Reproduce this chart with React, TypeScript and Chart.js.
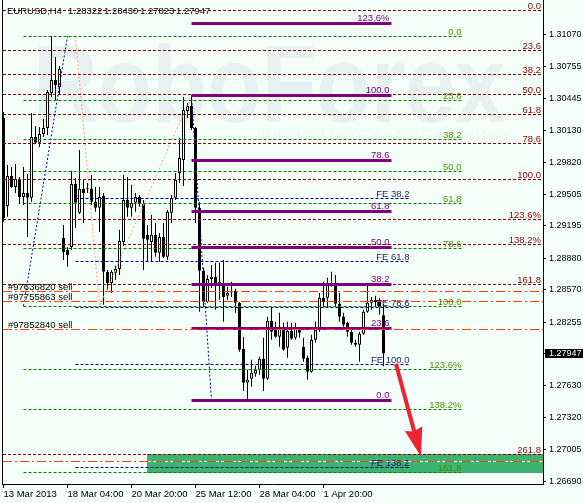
import { useEffect, useRef } from 'react';
import { Chart, registerables } from 'chart.js';

Chart.register(...registerables);

const symbolTitle = 'EURUSD,H4';

// H4 candles, oldest first
const opens = [
  1.30252, 1.29391, 1.29685, 1.29577, 1.29655, 1.29479, 1.29518, 1.2947, 1.30066, 1.30008,
  1.30095, 1.30154, 1.30496, 1.30624, 1.30555, 1.29078, 1.28961, 1.2899, 1.29606, 1.29323,
  1.29558, 1.29558, 1.29558, 1.29431, 1.29372, 1.29489, 1.28746, 1.28638, 1.28736, 1.28775,
  1.29039, 1.2945, 1.29372, 1.29421, 1.29479, 1.29411, 1.29108, 1.29039, 1.29108, 1.28932,
  1.29088, 1.28893, 1.29323, 1.2947, 1.29714, 1.29841, 1.3032, 1.30369, 1.30154, 1.29372,
  1.28756, 1.28452, 1.28677, 1.28697, 1.28628, 1.28628, 1.28511, 1.2855, 1.2856, 1.28443,
  1.27993, 1.27661, 1.277, 1.27748, 1.27787, 1.27895, 1.277, 1.28267, 1.28198, 1.2811,
  1.28208, 1.28003, 1.28169, 1.281, 1.28188, 1.28012, 1.27905, 1.27768, 1.28081, 1.28179,
  1.28492, 1.28492, 1.28638, 1.28609, 1.28433, 1.28306, 1.28247, 1.28159, 1.28051, 1.28032,
  1.28139, 1.28355, 1.28443, 1.28452, 1.28472, 1.28322,
];
const highs = [
  1.30311, 1.29792, 1.29773, 1.29802, 1.29675, 1.29773, 1.29704, 1.30301, 1.30174, 1.30164,
  1.30242, 1.30526, 1.31054, 1.30849, 1.30761, 1.29205, 1.2899, 1.29734, 1.29665, 1.29939,
  1.29646, 1.29616, 1.29694, 1.29577, 1.29577, 1.29518, 1.28765, 1.28765, 1.28805, 1.29157,
  1.29694, 1.29675, 1.29597, 1.29518, 1.29499, 1.2945, 1.29205, 1.29303, 1.29225, 1.29127,
  1.29225, 1.29352, 1.29499, 1.29714, 1.30056, 1.30457, 1.30399, 1.30474, 1.30164, 1.29431,
  1.28785, 1.28716, 1.28814, 1.28834, 1.28834, 1.28863, 1.28599, 1.28648, 1.2858, 1.28452,
  1.2811, 1.27787, 1.27885, 1.27827, 1.27915, 1.281, 1.28306, 1.28403, 1.28257, 1.28345,
  1.28247, 1.28257, 1.28247, 1.28247, 1.28198, 1.281, 1.27924, 1.2813, 1.28257, 1.2854,
  1.28648, 1.28687, 1.28746, 1.28716, 1.2854, 1.28345, 1.28257, 1.28198, 1.28081, 1.28159,
  1.28374, 1.28628, 1.28501, 1.28511, 1.28492, 1.2843,
];
const lows = [
  1.29235, 1.29284, 1.29567, 1.29518, 1.29411, 1.29401, 1.29088, 1.29431, 1.29998, 1.29968,
  1.30066, 1.30086, 1.30457, 1.30428, 1.30477, 1.28863, 1.28795, 1.28961, 1.29176, 1.29313,
  1.29225, 1.29518, 1.29401, 1.29333, 1.29137, 1.28423, 1.2857, 1.2854, 1.28668, 1.28716,
  1.29, 1.29284, 1.29284, 1.29333, 1.29382, 1.28765, 1.28844, 1.28844, 1.28893, 1.28844,
  1.28883, 1.28863, 1.29225, 1.2945, 1.29616, 1.29587, 1.30252, 1.30135, 1.29225, 1.28355,
  1.28403, 1.28443, 1.28589, 1.28374, 1.28472, 1.28257, 1.28472, 1.28501, 1.28345, 1.27963,
  1.27579, 1.27485, 1.27621, 1.27719, 1.27739, 1.27579, 1.2769, 1.28081, 1.281, 1.28012,
  1.27973, 1.27905, 1.28081, 1.28081, 1.281, 1.27866, 1.2769, 1.27758, 1.28051, 1.28159,
  1.28403, 1.28394, 1.28599, 1.28403, 1.28257, 1.28208, 1.2811, 1.28032, 1.28012, 1.27866,
  1.2813, 1.28345, 1.28374, 1.28403, 1.28325, 1.27823,
];
const closes = [
  1.29274, 1.29685, 1.29577, 1.29655, 1.29479, 1.29518, 1.2947, 1.30066, 1.30008, 1.30095,
  1.30154, 1.30506, 1.30624, 1.30575, 1.30731, 1.28941, 1.28912, 1.29606, 1.29421, 1.29558,
  1.29518, 1.29553, 1.29431, 1.29372, 1.29479, 1.28746, 1.28638, 1.28746, 1.28775, 1.29049,
  1.2945, 1.29372, 1.29421, 1.29479, 1.29411, 1.29069, 1.29059, 1.29108, 1.28932, 1.29088,
  1.28893, 1.29333, 1.2947, 1.29646, 1.29861, 1.3033, 1.30369, 1.30154, 1.29372, 1.28756,
  1.28452, 1.28677, 1.28697, 1.28638, 1.28648, 1.28501, 1.2854, 1.28545, 1.28443, 1.27983,
  1.27661, 1.2769, 1.27758, 1.27787, 1.27895, 1.277, 1.28267, 1.28159, 1.2811, 1.28208,
  1.27983, 1.28169, 1.28091, 1.28188, 1.28149, 1.27895, 1.27768, 1.28081, 1.28179, 1.28492,
  1.28452, 1.28638, 1.28609, 1.28433, 1.28306, 1.28228, 1.28159, 1.28051, 1.28032, 1.28139,
  1.28355, 1.28443, 1.28472, 1.28472, 1.28403, 1.27947,
];

const xTickBars = [0, 16, 32, 48, 64, 80];
const xTickLabels = ['13 Mar 2013', '18 Mar 04:00', '20 Mar 20:00', '25 Mar 12:00', '28 Mar 04:00', '1 Apr 20:00'];
const priceTicks = [
  1.3107, 1.30755, 1.30445, 1.3013, 1.2982, 1.29505, 1.29195, 1.2888,
  1.2857, 1.28255, 1.27947, 1.2763, 1.2732, 1.27005, 1.2669,
];

// visible window
const priceMin = 1.2667;
const priceMax = 1.31406;
const barMin = -0.125;
const barMax = 134.875;

// wide retracement (full-width dashed lines)
const wideFiboLevels = [1.31308, 1.30916, 1.30673, 1.30477, 1.30281, 1.30002, 1.29646, 1.29254, 1.29011, 1.28619, 1.26957];
const wideFiboLabels = ['0.0', '23.6', '38.2', '50.0', '61.8', '78.6', '100.0', '123.6%', '138.2%', '161.8', '261.8'];

// retracement of the 13-15 Mar rally
const riseFiboLevels = [1.3105, 1.30427, 1.30042, 1.29731, 1.29419, 1.28976, 1.28411, 1.27788, 1.27403, 1.2678];
const riseFiboLabels = ['0.0', '23.6', '38.2', '50.0', '61.8', '78.6', '100.0', '123.6%', '138.2%', '161.8'];
const riseFiboSpan = [5, 114.5];
const riseFiboAnchorBars = [5, 16];
const riseFiboAnchorPrices = [1.28411, 1.3105];

// expansion A-B-C
const expansionLevels = [1.29466, 1.28843, 1.284, 1.27835, 1.26827];
const expansionLabels = ['FE 38.2', 'FE 61.8', 'FE 78.6', 'FE 100.0', 'FE 138.2'];
const expansionSpan = [18, 101.5];
const expansionPathBars = [18, 24, 47];
const expansionPathPrices = [1.3105, 1.28411, 1.30474];

// retracement of the 25-28 Mar fall
const fallFiboLevels = [1.31179, 1.30474, 1.29834, 1.29332, 1.2898, 1.28627, 1.2819, 1.27485];
const fallFiboLabels = ['123.6%', '100.0', '78.6', '61.8', '50.0', '38.2', '23.6', '0.0'];
const fallFiboSpan = [47, 97];
const fallFiboAnchorBars = [47, 52];
const fallFiboAnchorPrices = [1.30474, 1.27485];

// open sell orders and their target
const orderPrices = [1.28557, 1.28455, 1.28186];
const orderLabels = ['#97636820 sell', '#97755863 sell', '#97852840 sell'];
const targetPrice = 1.26888;

// target zone
const zoneFromBar = 36;
const zoneTop = 1.26966;
const zoneBottom = 1.26779;

// forecast arrow
const arrowBars = [98.1, 104.4];
const arrowPrices = [1.27846, 1.26937];

const brandText = 'RoboForex';
const sloganText = 'ИСПОЛЬЗУЙ РОБОТОВ – ПОЛУЧАЙ ПРИБЫЛЬ';

const FONT = '"Liberation Sans", Arial, sans-serif';
const LABEL_FONT = `9.5px ${FONT}`;
const BG = '#F5FFFA';
const MAROON = '#8B0000';
const GREEN = '#008000';
const GREEN_TEXT = '#4A9200';
const NAVY = '#000080';
const NAVY_TEXT = '#1C1C78';
const PURPLE = '#800080';
const ORANGE = '#FF4500';
const SALMON = '#FFA07A';
const ZONE = '#3CB371';
const ARROW = '#EE2233';

const lastClose = closes[closes.length - 1];

function hLine(ctx: CanvasRenderingContext2D, x1: number, x2: number, yPix: number, color: string, dash: number[], width = 1) {
  const yy = width % 2 === 1 ? Math.floor(yPix) + 0.5 : Math.round(yPix);
  ctx.save();
  ctx.strokeStyle = color;
  ctx.lineWidth = width;
  ctx.setLineDash(dash);
  ctx.beginPath();
  ctx.moveTo(x1, yy);
  ctx.lineTo(x2, yy);
  ctx.stroke();
  ctx.restore();
  return yy;
}

function polyline(ctx: CanvasRenderingContext2D, pts: number[][], color: string, dash: number[]) {
  ctx.save();
  ctx.strokeStyle = color;
  ctx.lineWidth = 1;
  ctx.setLineDash(dash);
  ctx.beginPath();
  pts.forEach((p, i) => (i === 0 ? ctx.moveTo(p[0], p[1]) : ctx.lineTo(p[0], p[1])));
  ctx.stroke();
  ctx.restore();
}

function text(ctx: CanvasRenderingContext2D, s: string, x: number, y: number, color: string, align: CanvasTextAlign) {
  ctx.fillStyle = color;
  ctx.textAlign = align;
  ctx.textBaseline = 'alphabetic';
  ctx.fillText(s, x, y);
}

const terminalObjects = {
  id: 'terminalObjects',
  beforeDraw(chart: any) {
    const { ctx, width, height } = chart;
    ctx.save();
    ctx.fillStyle = BG;
    ctx.fillRect(0, 0, width, height);
    ctx.restore();
  },
  beforeDatasetsDraw(chart: any) {
    const { ctx, chartArea: a } = chart;
    const xs = chart.scales.x;
    const ys = chart.scales.y;
    ctx.save();
    ctx.beginPath();
    ctx.rect(a.left, a.top, a.right - a.left, a.bottom - a.top);
    ctx.clip();

    // brand watermark
    ctx.save();
    ctx.fillStyle = '#E7F1F0';
    ctx.font = `bold 110px ${FONT}`;
    ctx.textBaseline = 'alphabetic';
    const w = ctx.measureText(brandText).width;
    ctx.translate(a.left + 30, a.top + 122);
    ctx.scale(472 / w, 1);
    ctx.fillText(brandText, 0, 0);
    ctx.restore();
    ctx.save();
    ctx.fillStyle = '#EFF8F5';
    ctx.font = `bold 12px ${FONT}`;
    ctx.textAlign = 'left';
    ctx.fillText(sloganText, a.left + 254, a.top + 139, 252);
    ctx.restore();

    // target zone
    const zx = Math.round(xs.getPixelForValue(zoneFromBar) - 0.5);
    const zt = Math.round(ys.getPixelForValue(zoneTop));
    const zb = Math.round(ys.getPixelForValue(zoneBottom));
    ctx.fillStyle = ZONE;
    ctx.fillRect(zx, zt, a.right - zx, zb - zt);
    ctx.restore();
  },
  afterDatasetsDraw(chart: any) {
    const { ctx, chartArea: a } = chart;
    const xs = chart.scales.x;
    const ys = chart.scales.y;
    const X = (b: number) => xs.getPixelForValue(b);
    const Y = (p: number) => ys.getPixelForValue(p);

    ctx.save();
    ctx.beginPath();
    ctx.rect(a.left, a.top, a.right - a.left, a.bottom - a.top);
    ctx.clip();
    ctx.font = LABEL_FONT;

    // anchor trend lines
    polyline(ctx, riseFiboAnchorBars.map((b, i) => [X(b), Y(riseFiboAnchorPrices[i])]), NAVY, [2, 2]);
    polyline(ctx, expansionPathBars.map((b, i) => [X(b), Y(expansionPathPrices[i])]), SALMON, [2, 2]);
    polyline(ctx, fallFiboAnchorBars.map((b, i) => [X(b), Y(fallFiboAnchorPrices[i])]), NAVY, [2, 2]);

    // wide retracement
    wideFiboLevels.forEach((p, i) => {
      const yy = hLine(ctx, a.left, a.right, Y(p), MAROON, [3, 2]);
      text(ctx, wideFiboLabels[i], a.right - 2, yy - 1.5, MAROON, 'right');
    });

    // rally retracement
    const gx1 = X(riseFiboSpan[0]);
    const gx2 = X(riseFiboSpan[1]);
    riseFiboLevels.forEach((p, i) => {
      const yy = hLine(ctx, gx1, gx2, Y(p), GREEN, [3, 2]);
      text(ctx, riseFiboLabels[i], gx2, yy - 1.5, GREEN_TEXT, 'right');
    });

    // expansion
    const ex1 = X(expansionSpan[0]);
    const ex2 = X(expansionSpan[1]);
    expansionLevels.forEach((p, i) => {
      const yy = hLine(ctx, ex1, ex2, Y(p), NAVY, [3, 2]);
      text(ctx, expansionLabels[i], ex2, yy - 1.5, NAVY_TEXT, 'right');
    });

    // fall retracement
    const px1 = X(fallFiboSpan[0]);
    const px2 = X(fallFiboSpan[1]);
    fallFiboLevels.forEach((p, i) => {
      const yy = hLine(ctx, px1, px2, Y(p), PURPLE, [], 3);
      text(ctx, fallFiboLabels[i], px2 - 2, yy - 2.5, PURPLE, 'right');
    });

    // orders and target
    orderPrices.forEach((p, i) => {
      const yy = hLine(ctx, a.left, a.right, Y(p), ORANGE, [9, 3, 2, 3]);
      text(ctx, orderLabels[i], a.left + 5, yy - 1.5, '#000000', 'left');
    });
    const zx = Math.round(X(zoneFromBar) - 0.5);
    hLine(ctx, zx, a.right, Y(targetPrice), '#FFFFFF', []);
    hLine(ctx, a.left, a.right, Y(targetPrice), ORANGE, [9, 3, 2, 3]);

    // forecast arrow
    const ax1 = X(arrowBars[0]);
    const ay1 = Y(arrowPrices[0]);
    const ax2 = X(arrowBars[1]);
    const ay2 = Y(arrowPrices[1]);
    const len = Math.hypot(ax2 - ax1, ay2 - ay1);
    const ux = (ax2 - ax1) / len;
    const uy = (ay2 - ay1) / len;
    const headLen = 29;
    const half = 9;
    const bx = ax2 - ux * headLen;
    const by = ay2 - uy * headLen;
    ctx.strokeStyle = ARROW;
    ctx.fillStyle = ARROW;
    ctx.lineWidth = 4;
    ctx.setLineDash([]);
    ctx.beginPath();
    ctx.moveTo(ax1, ay1);
    ctx.lineTo(bx + ux * 3, by + uy * 3);
    ctx.stroke();
    ctx.beginPath();
    ctx.moveTo(ax2, ay2);
    ctx.lineTo(bx - uy * half, by + ux * half);
    ctx.lineTo(bx + ux * 3, by + uy * 3);
    ctx.lineTo(bx + uy * half, by - ux * half);
    ctx.closePath();
    ctx.fill();
    ctx.restore();

    // frame left edge and title
    ctx.save();
    ctx.strokeStyle = '#000000';
    ctx.lineWidth = 1;
    ctx.beginPath();
    ctx.moveTo(a.left - 0.5, a.top);
    ctx.lineTo(a.left - 0.5, a.bottom + 1);
    ctx.stroke();
    ctx.font = LABEL_FONT;
    text(ctx, symbolTitle, a.left + 4, a.top + 14, '#000000', 'left');
    const n = closes.length - 1;
    [opens[n], highs[n], lows[n], closes[n]].forEach((v, i) => {
      text(ctx, v.toFixed(5), a.left + 65 + i * 36, a.top + 14, '#000000', 'left');
    });
    ctx.restore();
  },
};

export default function App() {
  const ref = useRef<HTMLCanvasElement>(null);

  useEffect(() => {
    const bars = opens.map((_, i) => i);
    const chart = new Chart(ref.current as HTMLCanvasElement, {
      type: 'bar',
      data: {
        datasets: [
          {
            label: 'wicks',
            data: bars.map((i) => ({ x: i, y: [lows[i], highs[i]] })) as any,
            backgroundColor: '#000000',
            borderWidth: 0,
            barThickness: 1,
            grouped: false,
            inflateAmount: 0,
            order: 2,
          } as any,
          {
            label: 'bodies',
            data: bars.map((i) => ({ x: i, y: [opens[i], closes[i]] })) as any,
            backgroundColor: bars.map((i) => (closes[i] >= opens[i] ? '#FFFFFF' : '#000000')),
            borderColor: '#000000',
            borderWidth: 1,
            borderSkipped: false,
            barThickness: 3,
            minBarLength: 1,
            grouped: false,
            inflateAmount: 0,
            order: 1,
          } as any,
        ],
      },
      options: {
        responsive: false,
        maintainAspectRatio: false,
        animation: false,
        devicePixelRatio: 1,
        events: [],
        layout: { padding: { left: 3, top: 0, right: 0, bottom: 0 } },
        plugins: { legend: { display: false }, tooltip: { enabled: false } },
        scales: {
          x: {
            type: 'linear',
            min: barMin,
            max: barMax,
            offset: false,
            afterBuildTicks: (s: any) => {
              s.ticks = xTickBars.map((v) => ({ value: v }));
            },
            afterFit: (s: any) => {
              s.height = 19;
              s.paddingLeft = 0;
              s.paddingRight = 0;
            },
            ticks: {
              autoSkip: false,
              maxRotation: 0,
              minRotation: 0,
              align: 'start',
              padding: 1,
              color: '#000000',
              font: { family: FONT, size: 9.5 },
              callback: (_v: any, i: number) => xTickLabels[i],
            },
            grid: { offset: false, drawOnChartArea: false, drawTicks: true, tickLength: 4, color: '#000000' },
            border: { display: true, color: '#000000', width: 1 },
          } as any,
          y: {
            type: 'linear',
            position: 'right',
            min: priceMin,
            max: priceMax,
            beginAtZero: false,
            afterBuildTicks: (s: any) => {
              s.ticks = priceTicks.map((v) => ({ value: v }));
            },
            afterFit: (s: any) => {
              s.width = 40;
              s.paddingTop = 0;
              s.paddingBottom = 0;
            },
            ticks: {
              autoSkip: false,
              padding: 3,
              font: { family: FONT, size: 9, lineHeight: 1 },
              color: (c: any) => (c.tick && Math.abs(c.tick.value - lastClose) < 1e-9 ? '#FFFFFF' : '#000000'),
              showLabelBackdrop: (c: any) => !!(c.tick && Math.abs(c.tick.value - lastClose) < 1e-9),
              backdropColor: '#000000',
              backdropPadding: { left: 4, right: 3, top: 0, bottom: 0 },
              callback: (v: any) => Number(v).toFixed(5),
            },
            grid: { drawOnChartArea: false, drawTicks: true, tickLength: 3, color: '#000000' },
            border: { display: true, color: '#000000', width: 1 },
          } as any,
        },
      } as any,
      plugins: [terminalObjects as any],
    });
    return () => chart.destroy();
  }, []);

  return (
    <div style={{ position: 'absolute', left: 0, top: 0, width: 583, height: 503 }}>
      <canvas ref={ref} width={583} height={503} style={{ display: 'block' }} />
    </div>
  );
}
